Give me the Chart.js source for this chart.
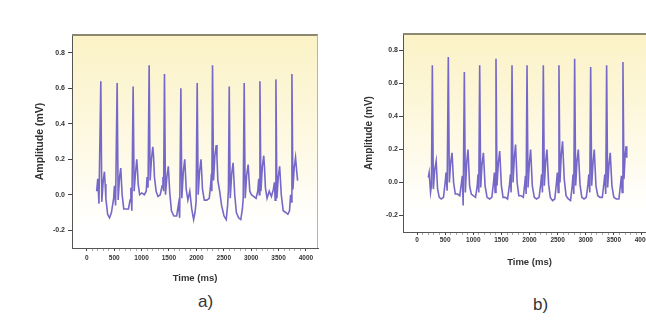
<!DOCTYPE html>
<html>
<head>
  <meta charset="UTF-8">
  <title>ECG amplitude</title>
  <script src="https://cdn.jsdelivr.net/npm/chart.js"></script>
  <style>
    body { margin: 0; width: 646px; height: 320px; overflow: hidden; background: #fff; position: relative; }
    canvas { position: absolute; top: 0; }
    .tag { position: absolute; font: 17px "Liberation Sans", Arial, sans-serif; color: #333; }
  </style>
</head>
<body>
  <canvas id="chartA" width="323" height="290" style="left:0"></canvas>
  <canvas id="chartB" width="331" height="272" style="left:330px"></canvas>
  <div class="tag" style="left:198px; top:292px">a)</div>
  <div class="tag" style="left:533px; top:295px">b)</div>

  <script>
    // x ticks (ms) and y ticks (mV)
    const xTicks = [0, 500, 1000, 1500, 2000, 2500, 3000, 3500, 4000];
    const yTicks = [-0.2, 0.0, 0.2, 0.4, 0.6, 0.8];

    // panel a)
    const timeA = [
      180, 200, 222, 256, 274, 300, 322, 335, 348, 380, 415, 450, 490, 505, 525,
      554, 572, 598, 620, 645, 675, 715, 760, 790, 805, 822,
      846, 864, 888, 912, 925, 938, 965, 1005, 1050, 1085, 1100, 1118,
      1138, 1156, 1180, 1205, 1218, 1235, 1265, 1300, 1340, 1375, 1390, 1402,
      1418, 1436, 1462, 1488, 1515, 1545, 1590, 1640, 1675, 1695,
      1717, 1735, 1762, 1788, 1815, 1845, 1880, 1915, 1950, 1975, 1995,
      2015, 2033, 2058, 2085, 2112, 2145, 2190, 2235, 2262, 2275, 2282,
      2295, 2313, 2338, 2362, 2376, 2392, 2425, 2460, 2505, 2545, 2570, 2585,
      2600, 2618, 2645, 2670, 2700, 2730, 2770, 2810, 2840, 2855,
      2873, 2891, 2918, 2945, 2975, 3005, 3050, 3090, 3120, 3138, 3148,
      3160, 3178, 3205, 3230, 3244, 3260, 3290, 3330, 3370, 3405, 3425, 3438,
      3452, 3470, 3495, 3520, 3550, 3585, 3630, 3670, 3700, 3720, 3732,
      3744, 3762, 3785, 3810, 3835, 3848
    ];
    const ampA = [
      0.02, 0.09, -0.05, 0.64, -0.04, 0.08, 0.13, 0.06, -0.02, -0.11, -0.13, -0.10, -0.02, 0.05, -0.06,
      0.63, -0.03, 0.10, 0.15, 0.00, -0.08, -0.08, -0.08, -0.03, 0.04, -0.09,
      0.61, 0.02, 0.12, 0.20, 0.14, 0.06, 0.00, 0.01, 0.00, 0.02, 0.10, 0.04,
      0.73, 0.08, 0.20, 0.27, 0.22, 0.10, 0.02, -0.01, 0.00, 0.05, 0.10, 0.02,
      0.68, 0.00, 0.10, 0.16, 0.01, -0.09, -0.12, -0.12, -0.05, -0.13,
      0.60, -0.02, 0.13, 0.20, 0.03, -0.03, 0.02, -0.08, -0.14, -0.10, -0.04,
      0.63, 0.00, 0.13, 0.20, 0.03, -0.03, -0.03, -0.02, 0.06, 0.12, 0.02,
      0.73, 0.08, 0.22, 0.28, 0.21, 0.08, 0.02, -0.06, -0.12, -0.14, -0.06, 0.03,
      0.61, -0.02, 0.12, 0.18, 0.00, -0.10, -0.13, -0.14, -0.08, -0.02,
      0.63, -0.02, 0.11, 0.17, 0.02, 0.00, -0.01, -0.02, 0.02, 0.09, 0.00,
      0.64, 0.02, 0.16, 0.22, 0.15, 0.04, -0.02, 0.02, -0.01, 0.03, 0.07, -0.03,
      0.65, -0.02, 0.10, 0.16, 0.00, -0.09, -0.10, -0.11, -0.09, 0.00, -0.04,
      0.68, 0.03, 0.15, 0.21, 0.12, 0.08
    ];

    // panel b)
    const timeB = [
      200, 215, 240, 256, 272, 290, 315, 340, 365, 395, 430, 470, 500, 515, 535,
      556, 574, 598, 622, 650, 680, 720, 760, 790, 805, 820,
      841, 859, 883, 906, 935, 965, 1000, 1040, 1070, 1085, 1098,
      1114, 1132, 1155, 1180, 1210, 1245, 1290, 1330, 1360, 1375, 1388,
      1404, 1422, 1446, 1470, 1500, 1530, 1570, 1610, 1645, 1660, 1673,
      1689, 1707, 1730, 1752, 1780, 1810, 1850, 1890, 1915, 1928, 1940,
      1956, 1974, 1998, 2020, 2050, 2085, 2125, 2170, 2200, 2215, 2230,
      2246, 2264, 2288, 2310, 2340, 2370, 2410, 2450, 2480, 2495, 2510,
      2524, 2542, 2565, 2588, 2618, 2650, 2690, 2730, 2760, 2775, 2788,
      2803, 2821, 2845, 2868, 2898, 2930, 2970, 3010, 3040, 3055, 3072,
      3088, 3106, 3130, 3152, 3182, 3215, 3255, 3295, 3325, 3340, 3356,
      3372, 3390, 3414, 3436, 3466, 3500, 3545, 3590, 3620, 3635, 3648,
      3662, 3680, 3700, 3718, 3730
    ];
    const ampB = [
      0.03, 0.06, -0.06, -0.02, 0.71, -0.04, 0.08, 0.13, -0.04, -0.09, -0.10, -0.09, 0.00, 0.06, -0.05,
      0.76, 0.00, 0.12, 0.18, 0.00, -0.07, -0.07, -0.08, 0.00, 0.04, -0.14,
      0.67, -0.06, 0.12, 0.20, -0.02, -0.07, -0.08, -0.09, -0.02, 0.05, -0.06,
      0.71, -0.03, 0.11, 0.18, -0.02, -0.09, -0.10, -0.09, 0.00, 0.06, -0.06,
      0.75, -0.02, 0.12, 0.19, -0.02, -0.09, -0.09, -0.10, -0.01, 0.05, -0.06,
      0.71, 0.00, 0.15, 0.23, 0.00, -0.08, -0.08, -0.09, -0.01, 0.04, -0.07,
      0.71, -0.03, 0.12, 0.20, -0.02, -0.09, -0.10, -0.09, -0.01, 0.05, -0.06,
      0.71, -0.02, 0.13, 0.20, -0.01, -0.09, -0.11, -0.10, 0.00, 0.06, -0.06,
      0.71, 0.00, 0.17, 0.25, 0.02, -0.08, -0.10, -0.11, -0.02, 0.05, -0.07,
      0.75, -0.02, 0.13, 0.20, -0.01, -0.09, -0.10, -0.09, -0.01, 0.05, -0.06,
      0.70, -0.02, 0.12, 0.20, -0.02, -0.08, -0.09, -0.09, 0.00, 0.05, -0.07,
      0.71, -0.03, 0.11, 0.18, -0.02, -0.09, -0.10, -0.10, -0.01, 0.04, -0.06,
      0.73, 0.02, 0.16, 0.22, 0.15
    ];

    // yellow fade behind the plot + frame on top/right
    const plotFrame = {
      id: 'plotFrame',
      beforeDraw(chart) {
        const { ctx, chartArea: a } = chart;
        const g = ctx.createLinearGradient(0, a.top, 0, a.bottom);
        g.addColorStop(0, '#fbf2c6');
        g.addColorStop(0.45, '#fdf8df');
        g.addColorStop(0.9, '#ffffff');
        ctx.save();
        ctx.fillStyle = g;
        ctx.fillRect(a.left, a.top, a.right - a.left, a.bottom - a.top);
        ctx.restore();
      },
      afterDraw(chart) {
        const { ctx, chartArea: a } = chart;
        ctx.save();
        ctx.strokeStyle = '#8c876f';
        ctx.lineWidth = 2;
        ctx.beginPath();
        ctx.moveTo(a.left, a.top);
        ctx.lineTo(a.right, a.top);
        ctx.stroke();
        ctx.strokeStyle = '#b9b5a5';
        ctx.lineWidth = 1;
        ctx.beginPath();
        ctx.moveTo(a.right - 0.5, a.top);
        ctx.lineTo(a.right - 0.5, a.bottom);
        ctx.stroke();
        ctx.restore();
      }
    };

    function makeChart(id, times, amps, o) {
      const pts = times.map((t, i) => ({ x: t, y: amps[i] }));
      const minorX = [];
      for (let v = 0; v <= 4000; v += 100) minorX.push(v);
      return new Chart(document.getElementById(id), {
        type: 'line',
        data: {
          datasets: [{
            data: pts,
            borderColor: '#7668c8',
            borderWidth: 1.6,
            pointRadius: 0,
            tension: 0
          }]
        },
        options: {
          responsive: false,
          animation: false,
          layout: { padding: { top: o.top, right: 5, bottom: 0, left: 0 } },
          plugins: { legend: { display: false }, tooltip: { enabled: false } },
          scales: {
            x: {
              type: 'linear',
              min: o.xmin,
              max: o.xmax,
              afterBuildTicks: s => { s.ticks = minorX.map(v => ({ value: v })); },
              afterFit: s => { s.height = o.xh; },
              ticks: {
                autoSkip: false,
                maxRotation: 0,
                padding: o.xpad,
                color: '#333',
                font: { family: 'Liberation Sans', size: 6.5, weight: 'bold' },
                callback: v => (xTicks.includes(v) ? String(v) : '')
              },
              grid: {
                drawOnChartArea: false,
                tickLength: 3,
                tickColor: c => (c.tick && xTicks.includes(c.tick.value) ? '#444' : '#aaa')
              },
              border: { color: '#555', width: 1 },
              title: {
                display: true,
                text: 'Time (ms)',
                color: '#333',
                padding: { top: 0, bottom: o.xtpad },
                font: { family: 'Liberation Sans', size: 9.5, weight: 'bold' }
              }
            },
            y: {
              min: -0.3,
              max: 0.9,
              afterBuildTicks: s => { s.ticks = yTicks.map(v => ({ value: v })); },
              afterFit: s => { s.width = o.yw; },
              ticks: {
                padding: o.ypad,
                color: '#333',
                font: { family: 'Liberation Sans', size: 7, weight: 'bold' },
                callback: v => v.toFixed(1)
              },
              grid: { drawOnChartArea: false, tickLength: 4, tickColor: '#444' },
              border: { color: '#555', width: 1 },
              title: {
                display: true,
                text: 'Amplitude (mV)',
                color: '#333',
                padding: { top: o.ytpad, bottom: 0 },
                font: { family: 'Liberation Sans', size: o.ytsize, weight: 'bold' }
              }
            }
          }
        },
        plugins: [plotFrame]
      });
    }

    makeChart('chartA', timeA, ampA, {
      top: 35, xmin: -270, xmax: 4220, xh: 42, yw: 72,
      xpad: 3, xtpad: 6, ypad: 3, ytpad: 34, ytsize: 10.5
    });
    makeChart('chartB', timeB, ampB, {
      top: 34, xmin: -250, xmax: 4250, xh: 40, yw: 73,
      xpad: 1, xtpad: 4, ypad: 1, ytpad: 33, ytsize: 10
    });
  </script>
</body>
</html>
